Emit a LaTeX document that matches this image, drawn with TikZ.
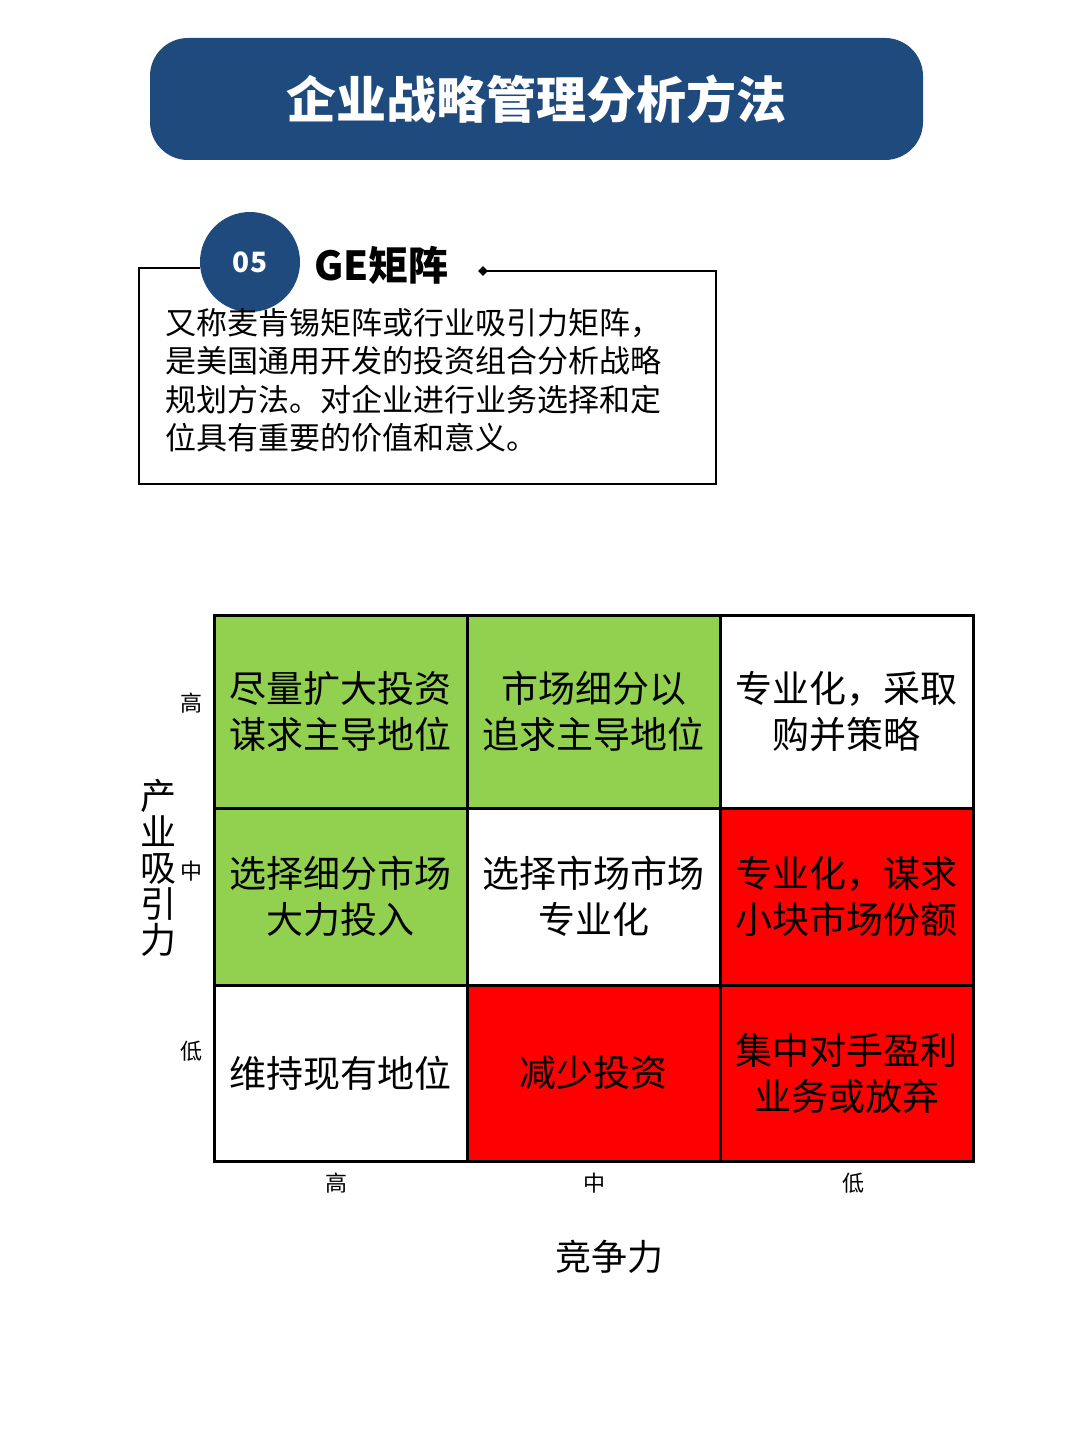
\documentclass[tikz,border=0pt]{standalone}
\usepackage{fontspec}
\setmainfont{Noto Sans CJK SC}
\usetikzlibrary{positioning,shapes.geometric}
\definecolor{navy}{HTML}{1F4A7E}
\definecolor{cellgreen}{HTML}{92D050}
\definecolor{cellred}{HTML}{FF0000}
\tikzset{
	cell/.style={draw=black, line width=3pt, minimum width=253pt, align=center, inner sep=0pt, font=\fontsize{37}{46}\selectfont},
	tick/.style={font=\fontsize{22}{24}\selectfont},
}
\begin{document}
\begin{tikzpicture}[x=1pt,y=-1pt]
	\useasboundingbox (0,0) rectangle (1080,1439);
	% title
	\node[fill=navy, rounded corners=38pt, minimum width=773pt, minimum height=122pt, text=white,
		font=\fontsize{50}{56}\selectfont\bfseries] (title) at (536.5,99) {企业战略管理分析方法};
	% text frame
	\coordinate (fl) at (200,268);
	\coordinate (fr) at (716,271);
	\draw[line width=2.5pt] (fl) -- (139,268) -- (139,484) -- (716,484) -- (fr) -- (483,271);
	\node[diamond, fill=black, inner sep=2.5pt] (dot) at (483,271) {};
	\node[circle, fill=navy, minimum size=100pt, text=white, font=\fontsize{28}{30}\selectfont\bfseries] (num) at (250,262) {05};
	\node[anchor=west, font=\fontsize{40}{44}\selectfont\bfseries, inner sep=0pt] (ge) at (314,265) {GE矩阵};
	\node[anchor=north west, align=left, inner sep=0pt, font=\fontsize{31}{38.5}\selectfont] (desc) at (165,308)
		{又称麦肯锡矩阵或行业吸引力矩阵，\\是美国通用开发的投资组合分析战略\\规划方法。对企业进行业务选择和定\\位具有重要的价值和意义。};
	% matrix
	\node[cell, fill=cellgreen, minimum height=193pt] (c11) at (340.5,711.5) {尽量扩大投资\\谋求主导地位};
	\node[cell, fill=cellgreen, minimum height=193pt] (c12) at (593.5,711.5) {市场细分以\\追求主导地位};
	\node[cell, fill=white, minimum height=193pt] (c13) at (846.5,711.5) {专业化，采取\\购并策略};
	\node[cell, fill=cellgreen, minimum height=177pt] (c21) at (340.5,896.5) {选择细分市场\\大力投入};
	\node[cell, fill=white, minimum height=177pt] (c22) at (593.5,896.5) {选择市场市场\\专业化};
	\node[cell, fill=cellred, minimum height=177pt] (c23) at (846.5,896.5) {专业化，谋求\\小块市场份额};
	\node[cell, fill=white, minimum height=176pt] (c31) at (340.5,1073) {维持现有地位};
	\node[cell, fill=cellred, minimum height=176pt] (c32) at (593.5,1073) {减少投资};
	\node[cell, fill=cellred, minimum height=176pt] (c33) at (846.5,1073) {集中对手盈利\\业务或放弃};
	% axis ticks
	\node[tick] (yh) at (191,703) {高};
	\node[tick] (ym) at (191,871) {中};
	\node[tick] (yl) at (191,1051) {低};
	\node[tick] (xh) at (336,1183) {高};
	\node[tick] (xm) at (594,1183) {中};
	\node[tick] (xl) at (853,1183) {低};
	% axis titles
	\node[align=center, font=\fontsize{36}{36}\selectfont] (ytitle) at (158,868) {产\\业\\吸\\引\\力};
	\node[font=\fontsize{36}{40}\selectfont] (xtitle) at (609,1257) {竞争力};
\end{tikzpicture}
\end{document}
